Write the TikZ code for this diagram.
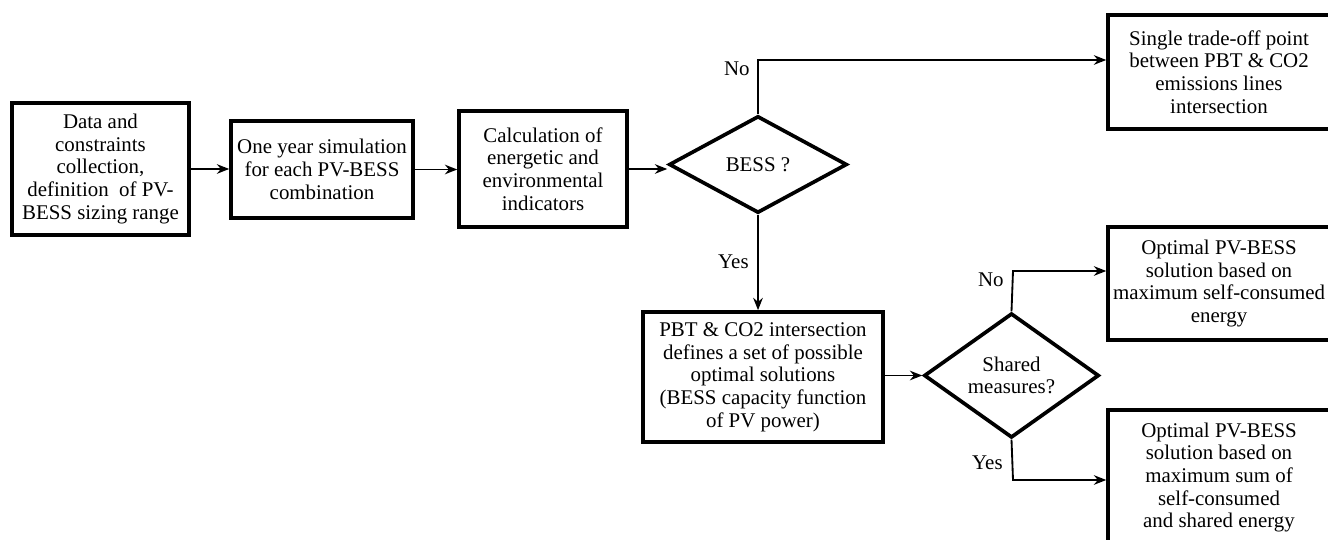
\documentclass[tikz,border=0pt]{standalone}
\usepackage{fontspec}
\setmainfont{Liberation Serif}
\usetikzlibrary{shapes.geometric,arrows.meta}
\tikzset{
  box/.style={draw, line width=2.1pt, align=center, inner sep=2pt, font=\fontsize{11.9}{12.9}\selectfont},
  dec/.style={draw, diamond, line width=2.1pt, align=center, inner sep=0pt, font=\fontsize{11.9}{12.9}\selectfont},
  arr/.style={line width=1.05pt, -{Stealth[length=7pt,width=5.5pt]}},
  lbl/.style={anchor=east, inner sep=0pt, font=\fontsize{11.9}{12.9}\selectfont}
}
\begin{document}
\begin{tikzpicture}[x=0.02cm,y=-0.02cm]
\useasboundingbox (0,0) rectangle (1328,540);
\clip (0,0) rectangle (1328,540);
\node[box, minimum width=3.54cm, minimum height=2.64cm] (data) at (100.5,169)
  {Data and\\constraints\\collection,\\definition\ \ of PV-\\BESS sizing range};
\node[box, minimum width=3.64cm, minimum height=1.94cm] (sim) at (322,169.5)
  {One year simulation\\for each PV-BESS\\combination};
\node[box, minimum width=3.36cm, minimum height=2.32cm] (calc) at (543,169)
  {Calculation of\\energetic and\\environmental\\indicators};
\node[dec, minimum width=3.56cm, minimum height=1.94cm] (bess) at (758,164.5) {BESS ?};
\node[box, minimum width=4.44cm, minimum height=2.28cm] (single) at (1219,72)
  {Single trade-off point\\between PBT \& CO2\\emissions lines\\intersection};
\node[box, minimum width=4.8cm, minimum height=2.6cm] (pbt) at (763,377)
  {PBT \& CO2 intersection\\defines a set of possible\\optimal solutions\\(BESS capacity function\\of PV power)};
\node[dec, minimum width=3.5cm, minimum height=1.94cm] (shared) at (1011.5,375.5) {Shared\\measures?};
\node[box, minimum width=4.44cm, minimum height=2.26cm] (self) at (1219,283.5)
  {Optimal PV-BESS\\solution based on\\maximum self-consumed\\energy};
\node[box, minimum width=4.44cm, minimum height=2.7cm] (sum) at (1219,477.5)
  {Optimal PV-BESS\\solution based on\\maximum sum of\\self-consumed\\and shared energy};
\coordinate (noA) at (758,60);
\coordinate (noB) at (1013,271);
\coordinate (yesB) at (1013,480);
\draw[arr] (data.east) -- (data.east -| sim.west);
\draw[arr] (sim.east) -- (sim.east -| calc.west);
\draw[arr] (calc.east) -- (calc.east -| bess.west);
\draw[arr] (bess.north) -- (noA) -- (noA -| single.west);
\draw[arr] (bess.south) -- (bess.south |- pbt.north);
\draw[arr] (pbt.east |- shared.west) -- (shared.west);
\draw[arr] (shared.north) -- (noB) -- (noB -| self.west);
\draw[arr] (shared.south) -- (yesB) -- (yesB -| sum.west);
\node[lbl] (lno1) at (750,69) {No};
\node[lbl] (lyes1) at (749,262) {Yes};
\node[lbl] (lno2) at (1004,280) {No};
\node[lbl] (lyes2) at (1003,463) {Yes};
\end{tikzpicture}
\end{document}
